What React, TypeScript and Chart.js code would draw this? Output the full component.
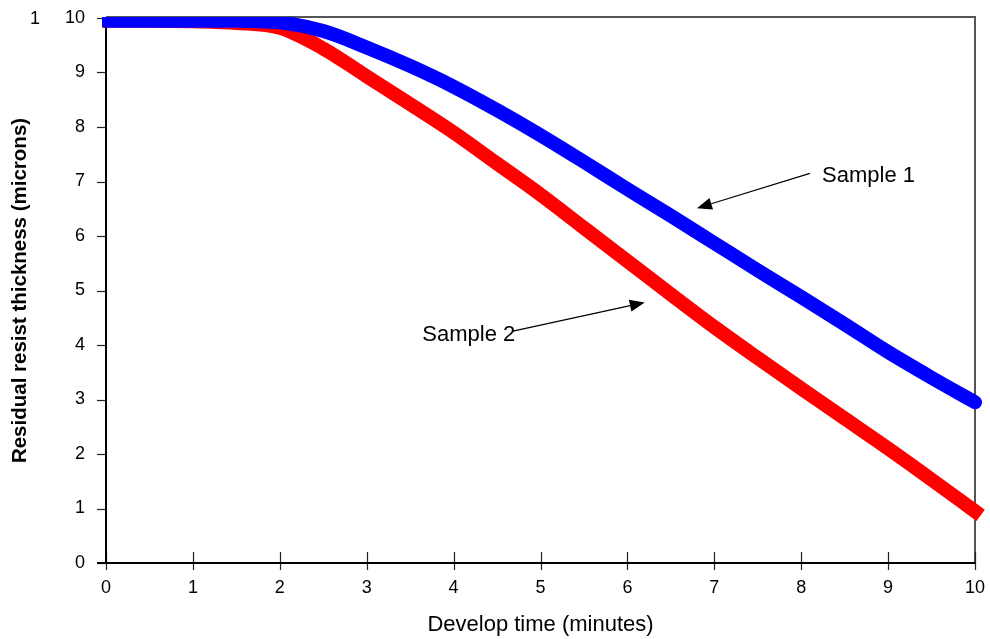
import React, { useEffect, useRef } from "react";
import { Chart, registerables } from "chart.js";

Chart.register(...registerables);

// ---- data ----
const timeMinutes = [0, 0.5, 1, 1.5, 2, 2.5, 3, 3.5, 4, 4.5, 5, 5.5, 6, 6.5, 7, 7.5, 8, 8.5, 9, 9.5, 10];
const sample1 = [9.95, 9.95, 9.95, 9.95, 9.92, 9.76, 9.46, 9.12, 8.74, 8.31, 7.85, 7.36, 6.86, 6.37, 5.87, 5.37, 4.88, 4.38, 3.87, 3.4, 2.95];
const sample2 = [9.95, 9.95, 9.94, 9.91, 9.82, 9.44, 8.93, 8.42, 7.9, 7.33, 6.76, 6.15, 5.54, 4.93, 4.33, 3.76, 3.2, 2.65, 2.1, 1.53, 0.95];

const seriesNames = ["Sample 1", "Sample 2"];
const xTitle = "Develop time (minutes)";
const yTitle = "Residual resist thickness (microns)";
const strayLabel = "1";

// annotation anchors in data units: [textX, textY, arrowFromX, arrowFromY, tipX, tipY]
const annotation1 = [8.24, 7.11, 8.1, 7.15, 6.8, 6.51];
const annotation2 = [3.64, 4.19, 4.67, 4.25, 6.2, 4.78];

const FONT = "'Liberation Sans', Arial, sans-serif";

function drawArrow(ctx: CanvasRenderingContext2D, x1: number, y1: number, x2: number, y2: number) {
  const ang = Math.atan2(y2 - y1, x2 - x1);
  const len = 15;
  const half = 6;
  const bx = x2 - len * Math.cos(ang);
  const by = y2 - len * Math.sin(ang);
  ctx.beginPath();
  ctx.moveTo(x1, y1);
  ctx.lineTo(bx, by);
  ctx.strokeStyle = "#000";
  ctx.lineWidth = 1.2;
  ctx.stroke();
  ctx.beginPath();
  ctx.moveTo(x2, y2);
  ctx.lineTo(bx + half * Math.sin(ang), by - half * Math.cos(ang));
  ctx.lineTo(bx - half * Math.sin(ang), by + half * Math.cos(ang));
  ctx.closePath();
  ctx.fillStyle = "#000";
  ctx.fill();
}

const axesPlugin = {
  id: "axesDecor",
  beforeDatasetsDraw(chart: any) {
    const { ctx, chartArea: a, scales } = chart;
    const x = scales.x;
    const y = scales.y;
    ctx.save();
    // gray frame (top & right)
    ctx.strokeStyle = "#555";
    ctx.lineWidth = 2;
    ctx.beginPath();
    ctx.moveTo(a.left, a.top - 1);
    ctx.lineTo(a.right, a.top - 1);
    ctx.lineTo(a.right, a.bottom);
    ctx.stroke();
    // tick marks
    ctx.strokeStyle = "#222";
    ctx.lineWidth = 1.2;
    y.ticks.forEach((t: any) => {
      const py = Math.round(y.getPixelForValue(t.value)) + 0.5;
      ctx.beginPath();
      ctx.moveTo(a.left - 9, py);
      ctx.lineTo(a.left, py);
      ctx.stroke();
    });
    x.ticks.forEach((t: any) => {
      const px = Math.round(x.getPixelForValue(t.value)) + 0.5;
      ctx.beginPath();
      ctx.moveTo(px, a.bottom - 11);
      ctx.lineTo(px, a.bottom + 7);
      ctx.stroke();
    });
    // black axes
    ctx.strokeStyle = "#000";
    ctx.lineWidth = 2;
    ctx.beginPath();
    ctx.moveTo(a.left, a.top);
    ctx.lineTo(a.left, a.bottom);
    ctx.stroke();
    ctx.beginPath();
    ctx.moveTo(a.left - 9, a.bottom);
    ctx.lineTo(a.right, a.bottom);
    ctx.stroke();
    ctx.restore();
  },
  afterDatasetsDraw(chart: any) {
    const { ctx, scales } = chart;
    const x = scales.x;
    const y = scales.y;
    ctx.save();
    ctx.font = `22px ${FONT}`;
    ctx.fillStyle = "#000";
    ctx.textBaseline = "middle";
    ctx.textAlign = "left";
    const anns = [annotation1, annotation2];
    anns.forEach((an, i) => {
      ctx.fillText(seriesNames[i], x.getPixelForValue(an[0]), y.getPixelForValue(an[1]));
      drawArrow(
        ctx,
        x.getPixelForValue(an[2]),
        y.getPixelForValue(an[3]),
        x.getPixelForValue(an[4]),
        y.getPixelForValue(an[5])
      );
    });
    // stray label at top-left
    ctx.font = `18px ${FONT}`;
    ctx.textAlign = "center";
    ctx.fillText(strayLabel, 35, y.getPixelForValue(10) + 1);
    ctx.restore();
  },
};

export default function App() {
  const ref = useRef<HTMLCanvasElement>(null);
  useEffect(() => {
    if (!ref.current) return;
    const s1 = timeMinutes.map((t, i) => ({ x: t, y: sample1[i] }));
    const s2 = timeMinutes.map((t, i) => ({ x: t, y: sample2[i] }));
    const clip = { left: 4, top: 1, right: 10, bottom: 10 };
    const chart = new Chart(ref.current, {
      type: "line",
      data: {
        datasets: [
          {
            label: seriesNames[0],
            data: s1,
            borderColor: "#0000FF",
            backgroundColor: "#0000FF",
            borderWidth: 14,
            borderCapStyle: "round",
            borderJoinStyle: "round",
            cubicInterpolationMode: "monotone",
            pointRadius: 0,
            clip,
          } as any,
          {
            label: seriesNames[1],
            data: s2,
            borderColor: "#FF0000",
            backgroundColor: "#FF0000",
            borderWidth: 14,
            borderCapStyle: "square",
            borderJoinStyle: "miter",
            cubicInterpolationMode: "monotone",
            pointRadius: 0,
            clip,
          } as any,
        ],
      },
      options: {
        responsive: false,
        animation: false,
        layout: { padding: { left: 0, top: 18, right: 15, bottom: 0 } },
        plugins: {
          legend: { display: false },
          tooltip: { enabled: false },
        },
        scales: {
          x: {
            type: "linear",
            min: 0,
            max: 10,
            ticks: {
              stepSize: 1,
              color: "#000",
              font: { family: FONT, size: 18 },
              padding: 14,
              maxRotation: 0,
            },
            grid: { display: false, drawTicks: false },
            border: { display: false },
            title: {
              display: true,
              text: xTitle,
              color: "#000",
              font: { family: FONT, size: 22 },
              padding: { top: 0, bottom: 1 },
            },
            afterFit: (s: any) => {
              s.height = 76;
              s.paddingLeft = 0;
              s.paddingRight = 0;
            },
          },
          y: {
            type: "linear",
            min: 0,
            max: 10,
            ticks: {
              stepSize: 1,
              color: "#000",
              font: { family: FONT, size: 18 },
              padding: 21,
            },
            grid: { display: false, drawTicks: false },
            border: { display: false },
            title: {
              display: true,
              text: yTitle,
              color: "#000",
              font: { family: FONT, size: 20.5, weight: "bold" },
              padding: { top: 8, bottom: 0 },
            },
            afterFit: (s: any) => {
              s.width = 106;
              s.paddingTop = 0;
              s.paddingBottom = 0;
            },
          },
        },
      },
      plugins: [axesPlugin],
    });
    return () => chart.destroy();
  }, []);
  return (
    <div style={{ position: "fixed", left: 0, top: 0, width: 990, height: 639, background: "#fff" }}>
      <canvas ref={ref} width={990} height={639} style={{ display: "block" }} />
    </div>
  );
}
